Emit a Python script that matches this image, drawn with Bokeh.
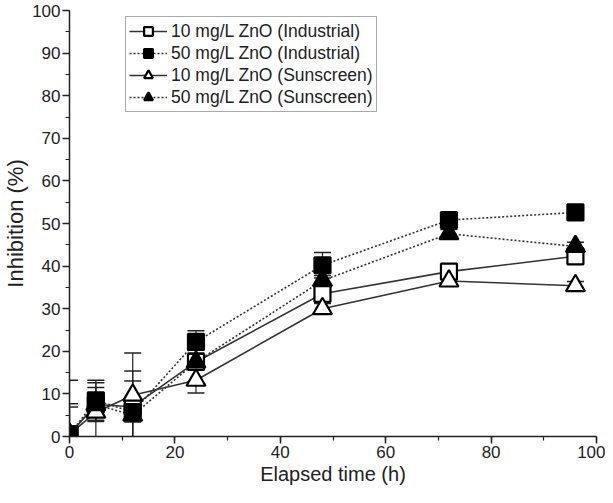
from bokeh.plotting import figure
from bokeh.models import Range1d, Legend, LegendItem, SingleIntervalTicker
from bokeh.embed import file_html
from bokeh.resources import INLINE

hours = [0, 5, 12, 24, 48, 72, 96]

ind10 = [0.5, 7.5, 7.0, 17.5, 33.5, 38.7, 42.3]
ind10_err = [7.2, 4.0, 8.4, 1.5, 1.2, 1.0, 1.0]

ind50 = [0.5, 8.5, 5.7, 22.2, 40.2, 50.8, 52.6]
ind50_err = [0.0, 4.7, 2.3, 2.6, 3.0, 1.0, 1.0]

sun10 = [0.5, 5.7, 9.7, 13.2, 30.0, 36.5, 35.4]
sun10_err = [12.7, 6.9, 9.9, 3.0, 1.2, 1.0, 1.0]

sun50 = [0.5, 7.5, 5.0, 17.5, 36.6, 47.6, 44.6]
sun50_err = [6.4, 1.0, 8.0, 1.5, 1.2, 1.0, 1.0]

labels = ["10 mg/L ZnO (Industrial)", "50 mg/L ZnO (Industrial)",
          "10 mg/L ZnO (Sunscreen)", "50 mg/L ZnO (Sunscreen)"]

FONT = "Liberation Sans"

p = figure(width=605, height=487, output_backend="svg", toolbar_location=None,
           x_range=Range1d(0, 100), y_range=Range1d(0, 100),
           min_border_left=67, min_border_right=9, min_border_top=10, min_border_bottom=50)
p.outline_line_color = None
p.xgrid.visible = False
p.ygrid.visible = False
p.background_fill_color = "white"
p.border_fill_color = "white"

p.xaxis.ticker = SingleIntervalTicker(interval=20, num_minor_ticks=2)
p.yaxis.ticker = SingleIntervalTicker(interval=10, num_minor_ticks=2)
for ax in (p.xaxis[0], p.yaxis[0]):
    ax.axis_line_width = 1.5
    ax.axis_line_color = "#222222"
    ax.major_tick_line_color = "#222222"
    ax.minor_tick_line_color = "#222222"
    ax.major_tick_line_width = 1.5
    ax.minor_tick_line_width = 1.2
    ax.major_tick_out = 7
    ax.major_tick_in = 0
    ax.minor_tick_out = 4
    ax.minor_tick_in = 0
    ax.major_label_text_font = FONT
    ax.major_label_text_font_size = "17px"
    ax.major_label_text_color = "#222222"
    ax.axis_label_text_font = FONT
    ax.axis_label_text_font_style = "normal"
    ax.axis_label_text_color = "#222222"
    ax.major_label_standoff = 2
p.xaxis.axis_label = "Elapsed time (h)"
p.yaxis.axis_label = "Inhibition (%)"
p.xaxis.axis_label_text_font_size = "20px"
p.yaxis.axis_label_text_font_size = "22px"
p.xaxis.axis_label_standoff = 2
p.yaxis.axis_label_standoff = 1

series = [
    (ind10, ind10_err, "square", "white", "solid"),
    (ind50, ind50_err, "square", "black", "2 2"),
    (sun10, sun10_err, "triangle", "white", "solid"),
    (sun50, sun50_err, "triangle", "black", "2 2"),
]

items = []
renderers = {}
for i, (vals, errs, marker, fill, dash) in enumerate(series):
    upper = [v + e for v, e in zip(vals, errs)]
    lower = [v - e for v, e in zip(vals, errs)]
    p.segment(x0=hours, y0=lower, x1=hours, y1=upper, line_color="#222222", line_width=1.2)
    p.scatter(x=hours, y=upper, marker="dash", size=17, line_color="#222222", line_width=1.5)
    p.scatter(x=hours, y=lower, marker="dash", size=17, line_color="#222222", line_width=1.5)
    ln = p.line(x=hours, y=vals, line_color="#333333", line_width=1.6, line_dash=dash)
    renderers[i] = ln

order = [0, 2, 3, 1]
for i in order:
    vals, errs, marker, fill, dash = series[i]
    size = 16 if marker == "square" else 19
    sc = p.scatter(x=hours, y=vals, marker=marker, size=size, fill_color=fill,
                   line_color="black", line_width=2.2)
    renderers[i] = (renderers[i], sc)

for i in range(4):
    ln, sc = renderers[i]
    items.append(LegendItem(label=labels[i], renderers=[ln, sc]))

legend = Legend(items=items, location=(56, 324))
legend.label_text_font = FONT
legend.label_text_font_size = "17.5px"
legend.label_text_color = "#222222"
legend.glyph_width = 38
legend.glyph_height = 22
legend.label_height = 22
legend.label_standoff = 4
legend.spacing = 0
legend.padding = 3
legend.margin = 0
legend.border_line_color = "#555555"
legend.border_line_width = 1.2
legend.background_fill_alpha = 1
p.add_layout(legend)

open("out.html", "w").write(file_html(p, INLINE))
